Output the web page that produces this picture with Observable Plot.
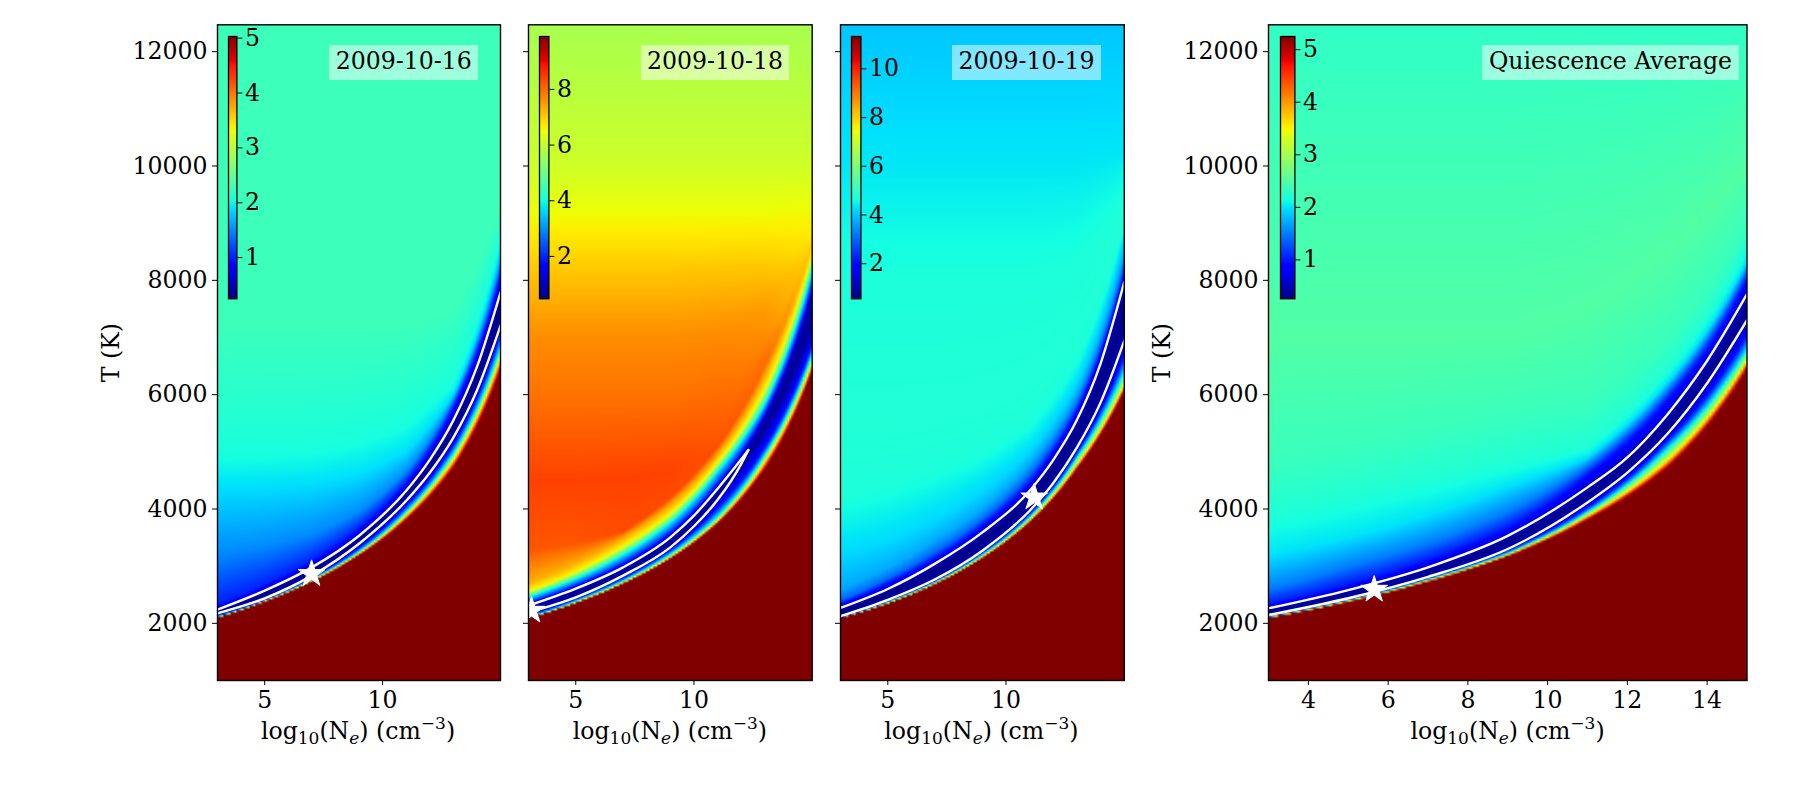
<!DOCTYPE html>
<html>
<head>
<meta charset="utf-8">
<script src="https://cdn.jsdelivr.net/npm/d3@7"></script>
<script src="https://cdn.jsdelivr.net/npm/@observablehq/plot@0.6"></script>
<style>
html,body{margin:0;padding:0;background:#fff}
#chart{position:relative;width:1800px;height:800px;overflow:hidden;font-family:"DejaVu Serif",serif;color:#000}
#chart svg{position:absolute;top:0;background:transparent;font-family:"DejaVu Serif",serif}
.tag{position:absolute;top:45px;height:34.7px;line-height:33px;background:rgba(255,255,255,.5);text-align:center;font-size:23.6px;white-space:nowrap}
.xl{position:absolute;top:711px;font-size:23.6px;line-height:40px;white-space:nowrap;transform:translateX(-50%)}
.xl sub{font-size:17px;vertical-align:-5px;line-height:0}
.xl sup{font-size:17px;vertical-align:10px;line-height:0}
</style>
</head>
<body>
<div id="chart"></div>
<script>
// ---------- values ----------
const neStops = [3, 5, 7, 9, 11, 13, 15];      // log10(Ne) columns of the tables below
const tTicks = [2000, 4000, 6000, 8000, 10000, 12000];
const tDomain = [1000, 12470];
const neDomain = [3, 15];

const jetStops = [0, .11, .125, .34, .35, .375, .64, .65, .66, .89, .91, 1];
const jetColors = ["#000080","#0000ff","#0000ff","#00dbff","#00e6f7","#15ffe2","#eeff08","#f7f500","#ffec00","#ff1300","#e80000","#800000"];

// Each table: value levels (one per row), and the temperature where that level sits at each neStops column.
const levels1 = [5.03, 3.5, 2, 1, .5, .27, .5, 1, 1.5, 1.9, 2.07, 2.27, 2.27];
const temps1 = [
 [2094,2372,2725,3190,3810,4720,6450],
 [2100,2382,2740,3215,3880,4840,6628],
 [2112,2395,2765,3255,3950,4970,6825],
 [2130,2412,2795,3310,4040,5100,7060],
 [2175,2437,2834,3393,4145,5250,7204],
 [2205,2500,2905,3460,4230,5400,7500],
 [2240,2572,2979,3533,4320,5550,7787],
 [2330,2680,3110,3680,4480,5800,8110],
 [3220,3350,3560,3950,4650,5900,8300],
 [4390,4400,4450,4600,5000,6000,8515],
 [4965,5000,5050,5200,5500,6200,8740],
 [7200,7200,7200,7200,7200,7500,9300],
 [12500,12500,12500,12500,12500,12500,12500]];

const levels2 = [9.9, 6.6, 4, 2, 1, .6, 1, 4, 6.6,
 [7.3,7.3,7.4,7.5,7.6,7.6,6.9],
 [8.2,8.2,8.3,8.3,8.3,8.0,7.0],
 [8.4,8.4,8.4,8.4,8.2,7.9,7.0],
 [7.9,7.9,7.9,7.9,7.9,7.7,6.9],
 [7.64,7.64,7.64,7.64,7.64,7.5,6.8],
 [7.15,7.15,7.15,7.15,7.15,7.1,6.7],
 6.5, 6.15, 5.95, 5.7];
const temps2 = [
 [2085,2350,2690,3130,3750,4700,6430],
 [2090,2360,2705,3155,3790,4830,6550],
 [2100,2385,2740,3205,3860,4940,6700],
 [2130,2420,2785,3270,4000,5060,6860],
 [2192,2454,2834,3329,4160,5300,7100],
 [2250,2530,2905,3415,4260,5450,7500],
 [2310,2606,2979,3504,4355,5600,7800],
 [2460,2780,3200,3766,4670,5850,8200],
 [2560,2900,3350,3917,4815,6100,8500],
 [2700,3050,3500,4090,4990,6400,8560],
 [3300,3400,3600,4200,5100,6500,8600],
 [4500,4500,4550,4650,5200,6700,8650],
 [6000,6000,6000,6000,6200,6900,8700],
 [7000,7000,7000,7000,7100,7500,8750],
 [8000,8000,8000,8000,8050,8150,8800],
 [9200,9200,9200,9200,9200,9200,9300],
 [10000,10000,10000,10000,10000,10000,10000],
 [11000,11000,11000,11000,11000,11000,11000],
 [12500,12500,12500,12500,12500,12500,12500]];

const levels3 = [11.33, 7.5, 4.5, 2, 1.1, .6, 1.1, 2, 3, 3.7, 4.2, 4.7, 4.75, 4.7, 4.35, 4.0];
const temps3 = [
 [2085,2340,2680,3140,3766,4700,6070],
 [2090,2350,2695,3160,3800,4780,6180],
 [2098,2370,2720,3200,3860,4900,6400],
 [2112,2395,2745,3240,3920,5000,6700],
 [2125,2410,2770,3271,3970,5077,6945],
 [2195,2505,2900,3430,4150,5320,7500],
 [2269,2600,3044,3591,4320,5560,7973],
 [2330,2700,3130,3700,4450,5720,8150],
 [2400,2780,3250,3820,4600,5850,8300],
 [2600,2960,3450,4000,4780,6000,8500],
 [3200,3400,3800,4300,5000,6200,8750],
 [4200,4400,4700,5000,5500,6600,9000],
 [5500,5500,5600,5800,6200,7100,9150],
 [8000,8000,8000,8000,8000,8300,9400],
 [10000,10000,10000,10000,10000,10000,10200],
 [12500,12500,12500,12500,12500,12500,12500]];

const levels4 = [5.25, 3.5, 2, 1, .55, .3, .55, 1, 1.5, 2, 2.2, 2.35, 2.5, 2.3];
const temps4 = [
 [2094,2372,2725,3170,3810,4720,6460],
 [2100,2385,2745,3195,3880,4845,6593],
 [2115,2405,2770,3230,3950,5055,6800],
 [2130,2420,2790,3265,4020,5193,7030],
 [2146,2439,2813,3300,4115,5311,7304],
 [2200,2510,2895,3410,4245,5490,7530],
 [2262,2582,2980,3530,4378,5650,7758],
 [2330,2680,3110,3680,4615,5926,8050],
 [2600,3000,3400,3950,4760,6070,8200],
 [3200,3500,3900,4400,4900,6214,8340],
 [3900,4200,4500,4800,5087,6418,8600],
 [4800,5000,5300,5600,5800,6900,9000],
 [7000,7000,7000,7000,7500,8500,10000],
 [12500,12500,12500,12500,12500,12500,12500]];

// White contours (upper and lower), read along finer columns
const contourNe = [3, 5, 7, 9, 11, 12, 13, 14, 15];
const upper1 = [2240,2572,2979,3533,4320,4860,5550,6485,7787];
const lower1 = [2175,2437,2834,3393,4145,4634,5250,6074,7204];
const contourNe2 = [3, 5, 7, 9, 10, 11, 12, 12.3];
const upper2 = [2310,2606,2979,3504,3883,4355,4870,5030];
const lower2 = [2192,2454,2834,3329,3698,4160,4790,5030];
const upper3 = [2269,2600,3044,3591,4320,4860,5560,6549,7973];
const lower3 = [2125,2410,2770,3271,3970,4455,5077,5865,6945];
const upper4 = [2262,2582,2980,3530,4378,4902,5650,6593,7758];
const lower4 = [2146,2439,2813,3300,4115,4637,5311,6200,7304];

const starNe = [6.99, 3.13, 11.19, 5.65];
const starT = [2864, 2222, 4203, 2589];

const titles = ["2009-10-16", "2009-10-18", "2009-10-19", "Quiescence Average"];
const barDomains = [[.25,5.03],[.48,9.9],[.56,11.33],[.26,5.25]];
const barTicks = [[1,2,3,4,5],[2,4,6,8],[2,4,6,8,10],[1,2,3,4,5]];
const neTicks = [[5,10],[5,10],[5,10],[4,6,8,10,12,14]];

// ---------- layout ----------
const boxes = [[216.5,499.5],[528,811.7],[839.5,1123.3],[1268.3,1746.8]];
const bars = [[228.3,236.7],[539.3,548.7],[851.3,860.7],[1280.3,1294.7]];
const tags = [[329.3,149],[641,148],[952,149],[1482,257]];
const TOP = 24.3, BOTTOM = 680, SVGH = 780, ML = 150, MR = 6;
const FONT = 23.6;

const chart = document.getElementById("chart");

function place(node, left){ node.style.left = left + "px"; chart.appendChild(node); }

function fieldOf(levels, temps){
  const n = neStops.length;
  return (x, T) => {
    let j = d3.bisectRight(neStops, x) - 1;
    j = Math.max(0, Math.min(n - 2, j));
    const w = (x - neStops[j]) / (neStops[j+1] - neStops[j]);
    let prevT = null, prevV = null;
    for (let i = 0; i < temps.length; i++){
      const a = temps[i][j], b = temps[i][j+1];
      const t = 1 / ((1-w)/a + w/b);
      const L = levels[i];
      const v = Array.isArray(L) ? L[j]*(1-w) + L[j+1]*w : L;
      if (T <= t){
        if (prevT === null) return v;
        return prevV + (v - prevV) * (T - prevT) / (t - prevT);
      }
      prevT = t; prevV = v;
    }
    return prevV;
  };
}

const panels = [
  {levels:levels1,temps:temps1,lines:[[contourNe,upper1],[contourNe,lower1]]},
  {levels:levels2,temps:temps2,lines:[[contourNe2,upper2],[contourNe2,lower2]]},
  {levels:levels3,temps:temps3,lines:[[contourNe,upper3],[contourNe,lower3]]},
  {levels:levels4,temps:temps4,lines:[[contourNe,upper4],[contourNe,lower4]]}
];

panels.forEach((p, k) => {
  const [d0, d1] = barDomains[k];
  const color = {type:"linear", domain: jetStops.map(f => d0 + f*(d1-d0)), range: jetColors, interpolate:"rgb", clamp:true};
  const [x0, x1] = boxes[k];
  const labelled = k === 0 || k === 3;
  const fig = Plot.plot({
    width: x1 - x0 + ML + MR,
    height: SVGH,
    marginLeft: ML, marginRight: MR, marginTop: TOP, marginBottom: SVGH - BOTTOM,
    x: {domain: neDomain},
    y: {domain: tDomain},
    color,
    style: {fontFamily:'"DejaVu Serif",serif', fontSize: FONT + "px", color:"#000"},
    marks: [
      Plot.raster({fill: fieldOf(p.levels, p.temps), x1:neDomain[0], x2:neDomain[1], y1:tDomain[0], y2:tDomain[1], width:150, height:300}),
      ...p.lines.map(([xs, ys]) => Plot.line(xs.map((x,i)=>({x, y:ys[i]})), {x:"x", y:"y", stroke:"white", strokeWidth:2.4, curve:"monotone-x", clip:"frame"})),
      Plot.dot([{x:starNe[k], y:starT[k]}], {x:"x", y:"y", symbol:"star", r:8.4, fill:"white", stroke:"white", strokeWidth:1, clip:"frame"}),
      Plot.axisX({ticks: neTicks[k], tickSize:5, tickPadding:6, label:null, fontSize:FONT, tickFormat:d=>String(d)}),
      Plot.axisY({ticks: tTicks, tickSize:5, tickPadding:5, fontSize:FONT, tickFormat: labelled ? (d=>String(d)) : (()=> ""),
        label: labelled ? "T (K)" : null, labelArrow:"none", labelAnchor:"center", labelOffset:115}),
      Plot.frame({stroke:"#000", strokeWidth:1.4})
    ]
  });
  place(fig, x0 - ML);

  const [bx0, bx1] = bars[k];
  const bar = Plot.plot({
    width: bx1 - bx0 + 60, height: 320,
    marginLeft: 1, marginRight: 59, marginTop: 36, marginBottom: 320 - 298.3,
    x: {domain:[0,1], axis:null},
    y: {domain:[d0,d1]},
    color,
    style: {fontFamily:'"DejaVu Serif",serif', fontSize: FONT + "px", color:"#000"},
    marks: [
      Plot.raster({fill:(x,y)=>y, x1:0, x2:1, y1:d0, y2:d1, width:1, height:256}),
      Plot.axisY({anchor:"right", ticks: barTicks[k], tickSize:5, tickPadding:3, fontSize:FONT, label:null, tickFormat:d=>String(d)}),
      Plot.frame({stroke:"#000", strokeWidth:1.3})
    ]
  });
  place(bar, bx0 - 1);

  const tag = document.createElement("div");
  tag.className = "tag";
  tag.textContent = titles[k];
  tag.style.left = tags[k][0] + "px";
  tag.style.width = tags[k][1] + "px";
  chart.appendChild(tag);

  const xl = document.createElement("div");
  xl.className = "xl";
  xl.style.left = (x0 + x1)/2 + "px";
  xl.innerHTML = 'log<sub>10</sub>(N<sub><i>e</i></sub>) (cm<sup>\u22123</sup>)';
  chart.appendChild(xl);
});
</script>
</body>
</html>
